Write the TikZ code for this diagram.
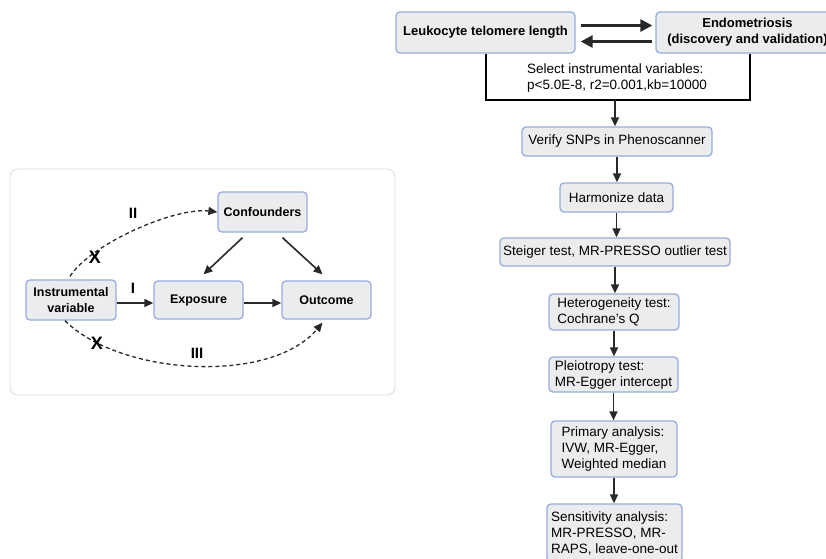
\documentclass[tikz,border=0pt]{standalone}
\usepackage{fontspec}
\setmainfont{Liberation Sans}
\usepackage{xcolor}
\usetikzlibrary{positioning, calc, arrows.meta}
\definecolor{boxfill}{RGB}{235,236,238}
\definecolor{boxline}{RGB}{150,173,222}
\definecolor{panelline}{RGB}{214,220,232}
\definecolor{inkgray}{RGB}{40,40,40}

\begin{document}
\begin{tikzpicture}[x=1pt, y=-1pt]
	\tikzstyle{stepbox}=[rectangle, rounded corners=4pt, draw=boxline, fill=boxfill, line width=1.3pt, inner sep=3pt, text=black, font=\fontsize{13.5}{16}\selectfont]
	\tikzstyle{titlebox}=[stepbox, font=\bfseries\fontsize{13}{16}\selectfont]
	\tikzstyle{mrbox}=[stepbox, font=\bfseries\fontsize{12.5}{15.5}\selectfont, minimum width=89pt]
	\tikzstyle{flowarrow}=[-{Triangle[length=9pt, width=8pt]}, line width=1.6pt, draw=inkgray]
	\tikzstyle{bigarrow}=[-{Triangle[length=12pt, width=12pt]}, line width=2.8pt, draw=inkgray]
	\tikzstyle{dasharrow}=[-{Triangle[length=9pt, width=8pt]}, line width=1.3pt, dashed, dash pattern=on 4pt off 3pt, draw=inkgray]
	\tikzstyle{pathlabel}=[font=\bfseries\fontsize{15}{17}\selectfont, inner sep=0pt]
	\tikzstyle{crossmark}=[font=\bfseries\fontsize{18}{20}\selectfont, inner sep=0pt]

	\useasboundingbox (0,0) rectangle (826,558);

	% left panel
	\draw[panelline, fill=white, line width=0.8pt, rounded corners=8pt] (10,169) rectangle (395,395);

	\node[mrbox, minimum height=40pt] (conf) at (262.5,212) {Confounders};
	\node[mrbox, minimum width=90pt, minimum height=40pt, align=center] (iv) at (71,300) {Instrumental\\variable};
	\node[mrbox, minimum height=38pt] (expo) at (198.5,300) {Exposure};
	\node[mrbox, minimum height=38pt] (outc) at (326.5,300) {Outcome};

	\draw[flowarrow] ([yshift=-3pt]iv.east) -- ([yshift=-3pt]expo.west);
	\draw[flowarrow] ([yshift=-3pt]expo.east) -- ([yshift=-3pt]outc.west);
	\draw[flowarrow] ([xshift=-20pt, yshift=-5pt]conf.south) -- ([xshift=5pt, yshift=6pt]expo.north);
	\draw[flowarrow] ([xshift=20pt, yshift=-5pt]conf.south) -- ([xshift=-4pt, yshift=6pt]outc.north);

	\draw[dasharrow] ([xshift=-1pt, yshift=3pt]iv.north) .. controls +(20,-32) and +(-43,-5) .. (conf.west);
	\draw[dasharrow] ([xshift=-6pt]iv.south) .. controls +(55,55) and +(-52,62) .. ([xshift=-4pt, yshift=-3pt]outc.south);

	\node[pathlabel] (lab1) at (133,288) {I};
	\node[pathlabel] (lab2) at (133,213) {II};
	\node[pathlabel] (lab3) at (197,353) {III};
	\node[crossmark] (cross1) at (95,257) {X};
	\node[crossmark] (cross2) at (97,343) {X};

	% right flow
	\node[titlebox, minimum width=179pt, minimum height=41pt] (ltl) at (485.5,32.5) {Leukocyte telomere length};
	\node[titlebox, minimum width=183pt, minimum height=41pt, align=center] (endo) at (747.5,32.5) {Endometriosis\\(discovery and validation)};

	\draw[bigarrow] ([xshift=5pt, yshift=7pt]ltl.east) -- ([xshift=-3pt, yshift=7pt]endo.west);
	\draw[bigarrow] ([xshift=-3pt, yshift=-9pt]endo.west) -- ([xshift=5pt, yshift=-9pt]ltl.east);

	\coordinate (sel) at (615,100);
	\draw[line width=1.5pt] ([xshift=0.5pt]ltl.south) |- (sel) -| ([xshift=2.5pt]endo.south);
	\node[align=left, font=\fontsize{13.5}{16}\selectfont] (seltext) at (617,78) {Select instrumental variables:\\p<5.0E-8, r2=0.001,kb=10000};

	\node[stepbox, minimum width=190pt, minimum height=29pt] (verify) at (617,141.5) {Verify SNPs in Phenoscanner};
	\node[stepbox, minimum width=113pt, minimum height=29pt] (harm) at (616.5,197.5) {Harmonize data};
	\node[stepbox, minimum width=230pt, minimum height=28pt] (steiger) at (615,252) {Steiger test, MR-PRESSO outlier test};
	\node[stepbox, minimum width=130pt, minimum height=36pt, align=left] (hetero) at (614,312) {Heterogeneity test:\\Cochrane's Q};
	\node[stepbox, minimum width=129pt, minimum height=35pt, align=left] (pleio) at (613.5,374.5) {Pleiotropy test:\\MR-Egger intercept};
	\node[stepbox, minimum width=126pt, minimum height=56pt, align=left] (primary) at (614,449) {Primary analysis:\\IVW, MR-Egger,\\Weighted median};
	\node[stepbox, minimum width=135pt, minimum height=58pt, align=left] (sens) at (614.5,533) {Sensitivity analysis:\\MR-PRESSO, MR-\\RAPS, leave-one-out};

	\draw[flowarrow] (sel) -- (sel |- verify.north);
	\draw[flowarrow] (verify.south) -- (verify.south |- harm.north);
	\draw[flowarrow] (harm.south) -- (harm.south |- steiger.north);
	\draw[flowarrow] (steiger.south) -- (steiger.south |- hetero.north);
	\draw[flowarrow] (hetero.south) -- (hetero.south |- pleio.north);
	\draw[flowarrow] (pleio.south) -- (pleio.south |- primary.north);
	\draw[flowarrow] (primary.south) -- (primary.south |- sens.north);
\end{tikzpicture}
\end{document}
